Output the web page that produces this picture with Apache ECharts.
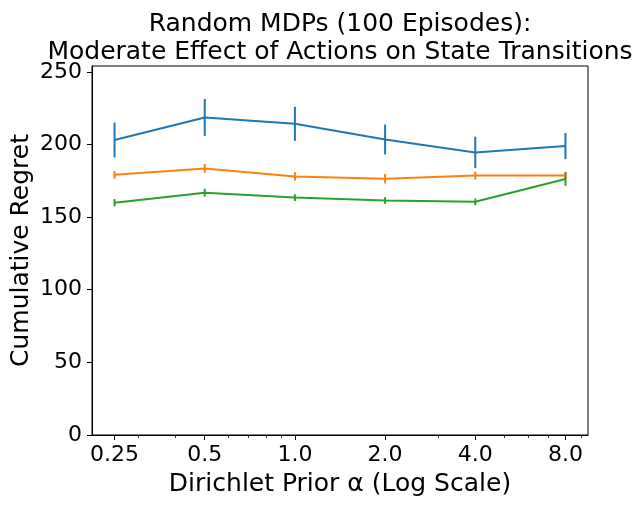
<!DOCTYPE html>
<html>
<head>
<meta charset="utf-8">
<script src="https://cdn.jsdelivr.net/npm/echarts@6/dist/echarts.min.js"></script>
<style>
  html, body { margin: 0; padding: 0; background: #fff; }
  #main { width: 643px; height: 507px; }
</style>
</head>
<body>
<div id="main"></div>
<script>
// Dirichlet prior alpha values (x, log base 2)
var alphas = [0.25, 0.5, 1.0, 2.0, 4.0, 8.0];
var xTickLabels = ['0.25', '0.5', '1.0', '2.0', '4.0', '8.0'];
var xMinorTicks = [0.3, 0.4, 0.6, 0.7, 0.8, 0.9, 3, 5, 6, 7, 9];
var yTicks = [0, 50, 100, 150, 200, 250];

// mean cumulative regret and error (half-length of bar)
var blueMean = [203.0, 218.6, 214.2, 203.4, 194.5, 198.9];
var blueErr = [12.0, 12.7, 11.7, 10.3, 10.8, 9.0];
var orangeMean = [179.1, 183.5, 178.0, 176.4, 178.6, 178.6];
var orangeErr = [2.7, 3.0, 2.9, 3.3, 2.7, 2.5];
var greenMean = [159.9, 166.8, 163.4, 161.4, 160.5, 176.2];
var greenErr = [2.5, 2.7, 2.3, 2.3, 2.3, 4.7];

var chart = echarts.init(document.getElementById('main'));
var FONT = 'DejaVu Sans';

function pairs(means) {
    return alphas.map(function (a, i) { return [a, means[i]]; });
}
function errData(means, errs) {
    return alphas.map(function (a, i) { return [a, means[i] - errs[i], means[i] + errs[i]]; });
}
// vertical error bar, no caps
function errRender(color) {
    return function (params, api) {
        var lo = api.coord([api.value(0), api.value(1)]);
        var hi = api.coord([api.value(0), api.value(2)]);
        return {
            type: 'line',
            shape: { x1: lo[0], y1: lo[1], x2: hi[0], y2: hi[1] },
            style: { stroke: color, lineWidth: 2 }
        };
    };
}
function lineSeries(name, means, color) {
    return {
        name: name, type: 'line', data: pairs(means),
        showSymbol: false, symbol: 'none',
        lineStyle: { color: color, width: 2 },
        itemStyle: { color: color },
        animation: false, z: 3
    };
}
function errSeries(name, means, errs, color) {
    return {
        name: name + ' err', type: 'custom', data: errData(means, errs),
        renderItem: errRender(color),
        encode: { x: 0, y: [1, 2] },
        animation: false, z: 3
    };
}

var colors = ['#1f77b4', '#ff7f0e', '#2ca02c'];

var option = {
    backgroundColor: '#fff',
    animation: false,
    title: {
        text: 'Random MDPs (100 Episodes):\nModerate Effect of Actions on State Transitions',
        left: 335, top: 6,
        textAlign: 'center',
        textStyle: { fontFamily: FONT, fontSize: 25, fontWeight: 'normal', color: '#000', lineHeight: 27.5 }
    },
    grid: {
        left: 92, right: 55, top: 66, bottom: 72,
        outerBoundsMode: 'none', containLabel: false,
        show: true, borderColor: '#000', borderWidth: 1, backgroundColor: 'transparent'
    },
    xAxis: [{
        type: 'log', logBase: 2,
        min: Math.pow(2, -2.25), max: Math.pow(2, 3.25),
        name: 'Dirichlet Prior α (Log Scale)',
        nameLocation: 'middle', nameGap: 37, nameMoveOverlap: false,
        nameTextStyle: { fontFamily: FONT, fontSize: 25, color: '#000' },
        axisLine: { show: true, lineStyle: { color: '#000', width: 1 } },
        axisTick: { show: true, length: 5, customValues: alphas, lineStyle: { color: '#000' } },
        axisLabel: {
            customValues: alphas, margin: 9,
            fontFamily: FONT, fontSize: 22, color: '#000',
            formatter: function (v) {
                var best = 0;
                for (var i = 0; i < alphas.length; i++) {
                    if (Math.abs(alphas[i] - v) < Math.abs(alphas[best] - v)) best = i;
                }
                return xTickLabels[best];
            }
        },
        splitLine: { show: false }
    }, {
        type: 'log', logBase: 2, position: 'bottom',
        min: Math.pow(2, -2.25), max: Math.pow(2, 3.25),
        axisLine: { show: false },
        axisTick: { show: true, length: 3, customValues: xMinorTicks, lineStyle: { color: '#000', width: 0.8 } },
        axisLabel: { show: false },
        splitLine: { show: false }
    }],
    yAxis: {
        type: 'value', min: 0, max: 254,
        name: 'Cumulative Regret',
        nameLocation: 'middle', nameGap: 58, nameRotate: 90, nameMoveOverlap: false,
        nameTextStyle: { fontFamily: FONT, fontSize: 25, color: '#000' },
        axisLine: { show: true, lineStyle: { color: '#000', width: 1 } },
        axisTick: { show: true, length: 5, customValues: yTicks, lineStyle: { color: '#000' } },
        axisLabel: { customValues: yTicks, margin: 10, fontFamily: FONT, fontSize: 22, color: '#000' },
        splitLine: { show: false }
    },
    series: [
        lineSeries('blue', blueMean, colors[0]),
        errSeries('blue', blueMean, blueErr, colors[0]),
        lineSeries('orange', orangeMean, colors[1]),
        errSeries('orange', orangeMean, orangeErr, colors[1]),
        lineSeries('green', greenMean, colors[2]),
        errSeries('green', greenMean, greenErr, colors[2])
    ]
};

chart.setOption(option);
</script>
</body>
</html>
